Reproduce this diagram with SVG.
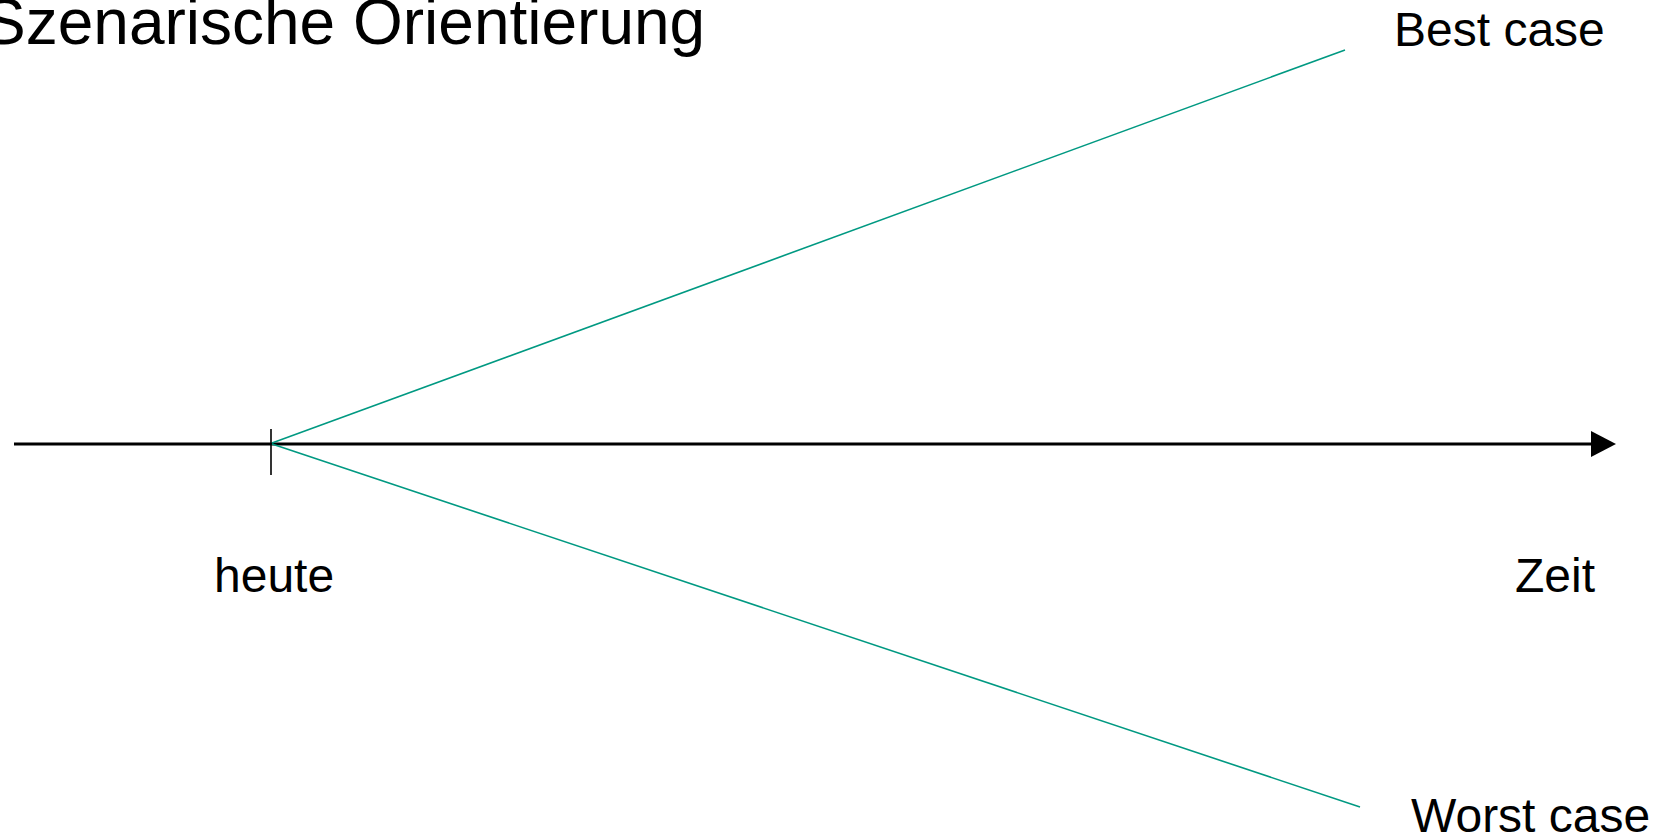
<svg xmlns="http://www.w3.org/2000/svg" width="1656" height="838" viewBox="0 0 1656 838">
<style>
.t{font-family:"Liberation Sans",Arial,sans-serif;fill:#000}
.sc{stroke:#009982;stroke-width:1.6;fill:none}
.ax{stroke:#000;stroke-width:3.2;fill:none}
</style>
<rect width="1656" height="838" fill="#fff"/>
<g id="title"><text class="t" x="-17" y="44" font-size="64">Szenarische Orientierung</text></g>
<g id="connectors">
<line class="ax" x1="14" y1="444" x2="1592" y2="444"/>
<polygon points="1591,431 1616,444 1591,457" fill="#000"/>
<line x1="271" y1="429" x2="271" y2="475" stroke="#000" stroke-width="1.6"/>
<line class="sc" x1="272" y1="443" x2="1345" y2="50"/>
<line class="sc" x1="272" y1="444" x2="1360" y2="807"/>
</g>
<g id="best"><text class="t" x="1394" y="46" font-size="48">Best case</text></g>
<g id="worst"><text class="t" x="1411" y="832" font-size="48">Worst case</text></g>
<g id="heute"><text class="t" x="214" y="592" font-size="48">heute</text></g>
<g id="zeit"><text class="t" x="1515" y="592" font-size="48">Zeit</text></g>
</svg>
